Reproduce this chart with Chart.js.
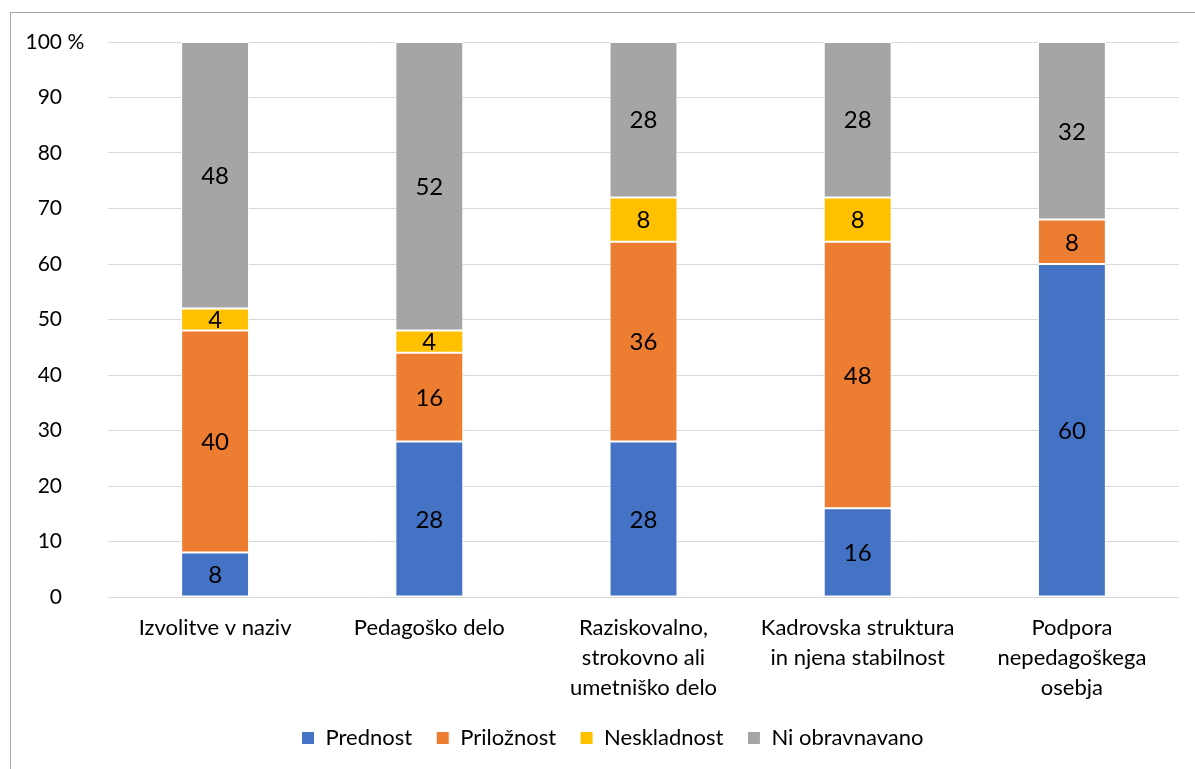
<!DOCTYPE html>
<html>
<head>
<meta charset="utf-8">
<script src="https://cdn.jsdelivr.net/npm/chart.js@4.4.0/dist/chart.umd.min.js"></script>
<style>
  html, body { margin: 0; padding: 0; background: #fff; overflow: hidden; }
  #wrap { position: relative; width: 1195px; height: 769px; }
  #frame { position: absolute; left: 10px; top: 12px; width: 1400px; height: 900px; border: 1px solid #a6a6a6; box-sizing: border-box; }
  canvas { position: absolute; left: 0; top: 0; }
</style>
</head>
<body>
<div id="wrap">
  <div id="frame"></div>
  <canvas id="chart" width="1195" height="769"></canvas>
</div>
<script>
const categories = [
  ['Izvolitve v naziv'],
  ['Pedagoško delo'],
  ['Raziskovalno,', 'strokovno ali', 'umetniško delo'],
  ['Kadrovska struktura', 'in njena stabilnost'],
  ['Podpora', 'nepedagoškega', 'osebja']
];
const prednost = [8, 28, 28, 16, 60];
const priloznost = [40, 16, 36, 48, 8];
const neskladnost = [4, 4, 8, 8, 0];
const niObravnavano = [48, 52, 28, 28, 32];
const yTicks = [0, 10, 20, 30, 40, 50, 60, 70, 80, 90, 100];
const yUnit = '%';

const FONT = 'Lato';

// values inside the bar segments
const segmentLabels = {
  id: 'segmentLabels',
  afterDatasetsDraw(chart) {
    const ctx = chart.ctx;
    ctx.save();
    ctx.font = '24px ' + FONT;
    ctx.fillStyle = '#000';
    ctx.textAlign = 'center';
    ctx.textBaseline = 'middle';
    chart.data.datasets.forEach((ds, i) => {
      chart.getDatasetMeta(i).data.forEach((bar, j) => {
        const v = ds.data[j];
        if (!v) return;
        const p = bar.getProps(['x', 'y', 'base'], true);
        ctx.fillText(String(v), p.x, (p.y + p.base) / 2 + 1);
      });
    });
    ctx.restore();
  }
};

// y tick labels, numbers right aligned, unit hanging on the last one
const yLabels = {
  id: 'yLabels',
  afterDraw(chart) {
    const ctx = chart.ctx;
    const scale = chart.scales.y;
    ctx.save();
    ctx.font = '21px ' + FONT;
    ctx.fillStyle = '#000';
    ctx.textBaseline = 'middle';
    yTicks.forEach((v, i) => {
      const py = scale.getPixelForValue(v);
      ctx.textAlign = 'right';
      ctx.fillText(String(v), 62, py);
      if (i === yTicks.length - 1) {
        ctx.textAlign = 'left';
        ctx.fillText(' ' + yUnit, 62, py);
      }
    });
    ctx.restore();
  }
};

const bar = (label, data, color) => ({
  label: label,
  data: data,
  backgroundColor: color,
  borderColor: '#ffffff',
  borderWidth: 1,
  borderSkipped: false,
  barPercentage: 0.317,
  categoryPercentage: 1
});

new Chart(document.getElementById('chart'), {
  type: 'bar',
  data: {
    labels: categories,
    datasets: [
      bar('Prednost', prednost, '#4472c4'),
      bar('Priložnost', priloznost, '#ed7d31'),
      bar('Neskladnost', neskladnost, '#ffc000'),
      bar('Ni obravnavano', niObravnavano, '#a5a5a5')
    ]
  },
  options: {
    responsive: false,
    animation: false,
    layout: { padding: { left: 46, right: 16, top: 42, bottom: 10 } },
    plugins: {
      tooltip: { enabled: false },
      legend: {
        position: 'bottom',
        labels: {
          font: { family: FONT, size: 22 },
          color: '#000',
          boxWidth: 13,
          boxHeight: 13,
          padding: 24
        }
      }
    },
    scales: {
      x: {
        stacked: true,
        grid: { display: false, drawTicks: false },
        border: { display: false },
        ticks: {
          font: { family: FONT, size: 22, lineHeight: 1.36 },
          color: '#000',
          padding: 16,
          maxRotation: 0,
          autoSkip: false
        },
        afterFit(scale) { scale.height = 106; }
      },
      y: {
        stacked: true,
        min: 0,
        max: 100,
        ticks: { stepSize: 10, display: false },
        grid: { color: '#d9d9d9', lineWidth: 1, drawTicks: false },
        border: { display: false },
        afterFit(scale) { scale.width = 62; }
      }
    }
  },
  plugins: [segmentLabels, yLabels]
});
</script>
</body>
</html>
